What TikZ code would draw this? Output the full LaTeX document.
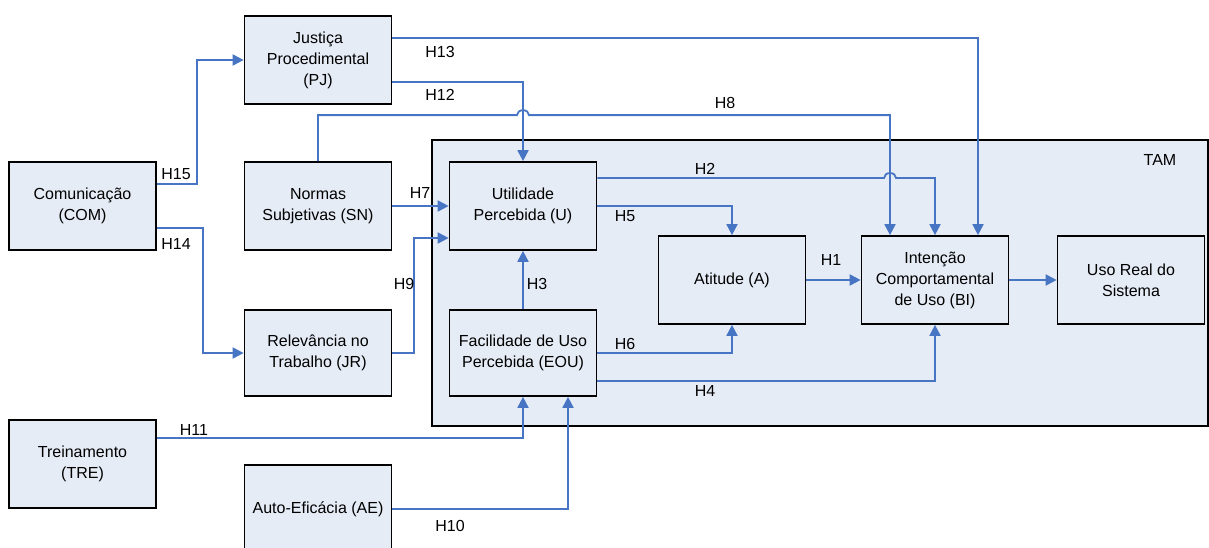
\documentclass[tikz,border=0pt]{standalone}
\usepackage{fontspec}
\setmainfont{Liberation Sans}
\usetikzlibrary{arrows.meta, positioning, calc}
\definecolor{boxfill}{HTML}{E6ECF6}
\definecolor{linkblue}{HTML}{4775C4}

\begin{document}
\begin{tikzpicture}[
  x=1pt, y=-1pt,
  box/.style={rectangle, draw, line width=1.7pt, fill=boxfill, minimum width=147pt, minimum height=88pt, inner sep=2pt, align=center, font=\fontsize{16}{21}\selectfont},
  tambox/.style={rectangle, draw, line width=1.7pt, fill=boxfill, minimum width=776pt, minimum height=286pt},
  link/.style={linkblue, line width=1.8pt},
  arr/.style={link, -{Triangle[length=11pt, width=11pt]}},
  hyp/.style={font=\fontsize{16}{18}\selectfont, inner sep=0pt}
]
  \useasboundingbox (0,0) rectangle (1209,548);

  \node[tambox] (tam) at (820,283) {};
  \node[hyp] (tamlbl) at (1160,160) {TAM};

  \node[box] (PJ) at (318,60) {Justiça\\Procedimental\\(PJ)};
  \node[box] (COM) at (82.5,206) {Comunicação\\(COM)};
  \node[box] (SN) at (318,206) {Normas\\Subjetivas (SN)};
  \node[box, minimum height=86pt] (JR) at (318,353) {Relevância no\\Trabalho (JR)};
  \node[box] (TRE) at (82.5,464) {Treinamento\\(TRE)};
  \node[box] (AE) at (318,509) {Auto-Eficácia (AE)};
  \node[box] (U) at (523,206) {Utilidade\\Percebida (U)};
  \node[box, minimum height=86pt] (EOU) at (523,353) {Facilidade de Uso\\Percebida (EOU)};
  \node[box] (A) at (732,280) {Atitude (A)};
  \node[box] (BI) at (935,280) {Intenção\\Comportamental\\de Uso (BI)};
  \node[box] (USO) at (1131,280) {Uso Real do\\Sistema};

  \coordinate (bi8) at ([xshift=-45pt]BI.north);

  \draw[arr] ([yshift=22pt]COM.east) -- ++(40,0) |- (PJ.west);
  \draw[arr] ([yshift=-22pt]COM.east) -- ++(46,0) |- (JR.west);
  \draw[arr] ([yshift=22pt]PJ.east) -| ([xshift=43pt]BI.north);
  \draw[arr] ([yshift=-22pt]PJ.east) -| (U.north);
  \draw[arr] (SN.north) -- ++(0,-46) coordinate (j8) -- ($(j8 -| U.north)+(-6,0)$)
    arc[start angle=180, end angle=0, x radius=6pt, y radius=5pt] -| (bi8);
  \draw[arr] ([yshift=28pt]U.east) coordinate (j2) -- ($(j2 -| bi8)+(-6,0)$)
    arc[start angle=180, end angle=0, x radius=6pt, y radius=5pt] -| (BI.north);
  \draw[arr] (U.east) -| (A.north);
  \draw[arr] (SN.east) -- (U.west);
  \draw[arr] (JR.east) -- ++(22,0) |- ([yshift=-32pt]U.west);
  \draw[arr] (EOU.north) -- (U.south);
  \draw[arr] (A.east) -- (BI.west);
  \draw[arr] (BI.east) -- (USO.west);
  \draw[arr] (EOU.east) -| (A.south);
  \draw[arr] ([yshift=-28pt]EOU.east) -| (BI.south);
  \draw[arr] ([yshift=26pt]TRE.east) -| (EOU.south);
  \draw[arr] (AE.east) -| ([xshift=45pt]EOU.south);

  \node[hyp] (h1) at (831,260) {H1};
  \node[hyp] (h2) at (705,169) {H2};
  \node[hyp] (h3) at (537,284) {H3};
  \node[hyp] (h4) at (705,391) {H4};
  \node[hyp] (h5) at (625,216) {H5};
  \node[hyp] (h6) at (625,344) {H6};
  \node[hyp] (h7) at (420,193) {H7};
  \node[hyp] (h8) at (725,103) {H8};
  \node[hyp] (h9) at (404,284) {H9};
  \node[hyp] (h10) at (450,526) {H10};
  \node[hyp] (h11) at (194,430) {H11};
  \node[hyp] (h12) at (440,95) {H12};
  \node[hyp] (h13) at (440,52) {H13};
  \node[hyp] (h14) at (176,244) {H14};
  \node[hyp] (h15) at (176,174) {H15};
\end{tikzpicture}
\end{document}
